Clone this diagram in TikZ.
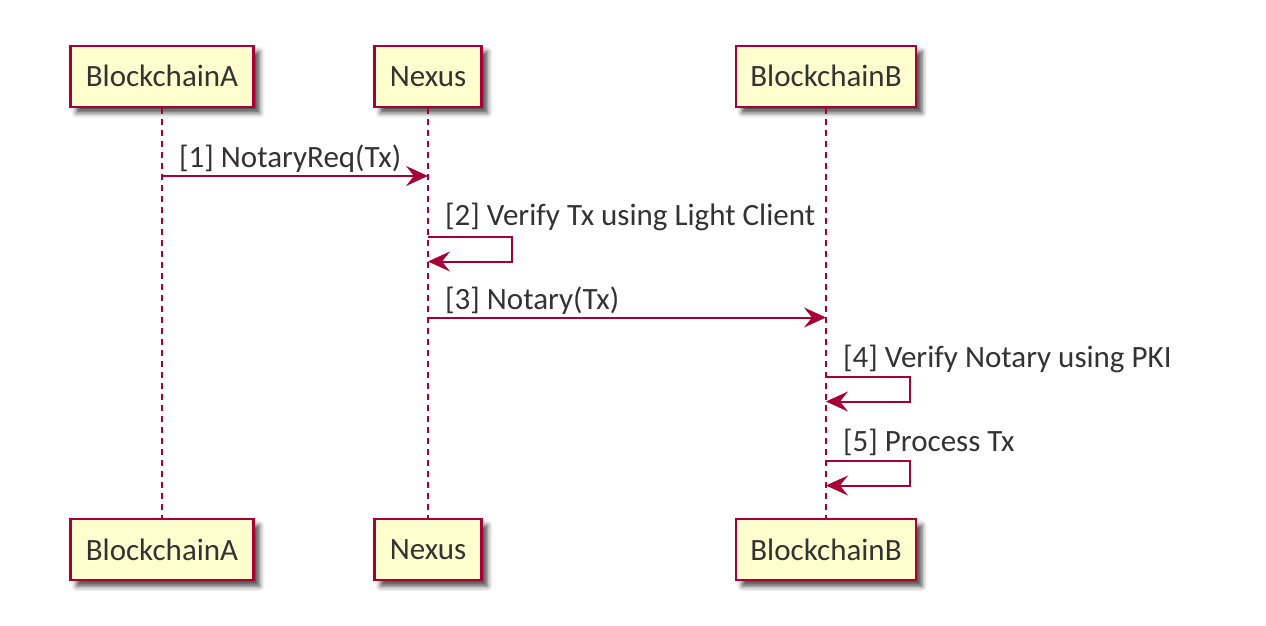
\documentclass[tikz,border=0pt]{standalone}
\usepackage{fontspec}
\setmainfont{Carlito}
\usetikzlibrary{arrows.meta,shadows.blur}
\definecolor{seqline}{HTML}{A80036}
\definecolor{seqfill}{HTML}{FEFECE}
\definecolor{seqtext}{HTML}{333333}
\tikzset{
  actor/.style={draw=seqline,line width=2.5pt,fill=seqfill,minimum height=61pt,inner sep=0pt,
    text=seqtext,blur shadow={shadow xshift=6pt,shadow yshift=-6pt,shadow blur radius=5pt,shadow opacity=70}},
  lifeline/.style={seqline,line width=1.6pt,dash pattern=on 6pt off 5pt},
  msg/.style={seqline,line width=2pt,-{Stealth[length=22pt,width=20pt,inset=8pt]}},
  msglabel/.style={anchor=base west,inner sep=0pt,text=seqtext}
}
\begin{document}
\begin{tikzpicture}[x=1pt,y=-1pt,font=\fontsize{31pt}{37pt}\selectfont]
  \useasboundingbox (0,0) rectangle (1266,626);
  % participants
  \node[actor,minimum width=183pt] (aTop) at (162,76.3) {BlockchainA};
  \node[actor,minimum width=107pt] (nTop) at (428,76.3) {Nexus};
  \node[actor,minimum width=180pt] (bTop) at (826,76.3) {BlockchainB};
  \node[actor,minimum width=183pt] (aBot) at (162,549.7) {BlockchainA};
  \node[actor,minimum width=107pt] (nBot) at (428,549.7) {Nexus};
  \node[actor,minimum width=180pt] (bBot) at (826,549.7) {BlockchainB};
  % lifelines
  \draw[lifeline] (aTop) -- (aBot);
  \draw[lifeline] (nTop) -- (nBot);
  \draw[lifeline] (bTop) -- (bBot);
  % messages
  \coordinate (m1a) at (aTop |- 0,176);
  \coordinate (m1n) at (nTop |- 0,176);
  \draw[msg] (m1a) -- (m1n);
  \node[msglabel] (l1) at ([xshift=17pt,yshift=9pt]m1a) {[1] NotaryReq(Tx)};
  \coordinate (m2s) at (nTop |- 0,236.5);
  \coordinate (m2e) at (nTop |- 0,261.5);
  \draw[msg] (m2s) -- ++(84,0) |- (m2e);
  \node[msglabel] (l2) at ([xshift=17pt,yshift=11pt]m2s) {[2] Verify Tx using Light Client};
  \coordinate (m3n) at (nTop |- 0,317.5);
  \coordinate (m3b) at (bTop |- 0,317.5);
  \draw[msg] (m3n) -- (m3b);
  \node[msglabel] (l3) at ([xshift=17pt,yshift=8pt]m3n) {[3] Notary(Tx)};
  \coordinate (m4s) at (bTop |- 0,376.5);
  \coordinate (m4e) at (bTop |- 0,401.5);
  \draw[msg] (m4s) -- ++(84,0) |- (m4e);
  \node[msglabel] (l4) at ([xshift=17pt,yshift=9pt]m4s) {[4] Verify Notary using PKI};
  \coordinate (m5s) at (bTop |- 0,460.5);
  \coordinate (m5e) at (bTop |- 0,485.5);
  \draw[msg] (m5s) -- ++(84,0) |- (m5e);
  \node[msglabel] (l5) at ([xshift=17pt,yshift=9pt]m5s) {[5] Process Tx};
\end{tikzpicture}
\end{document}
